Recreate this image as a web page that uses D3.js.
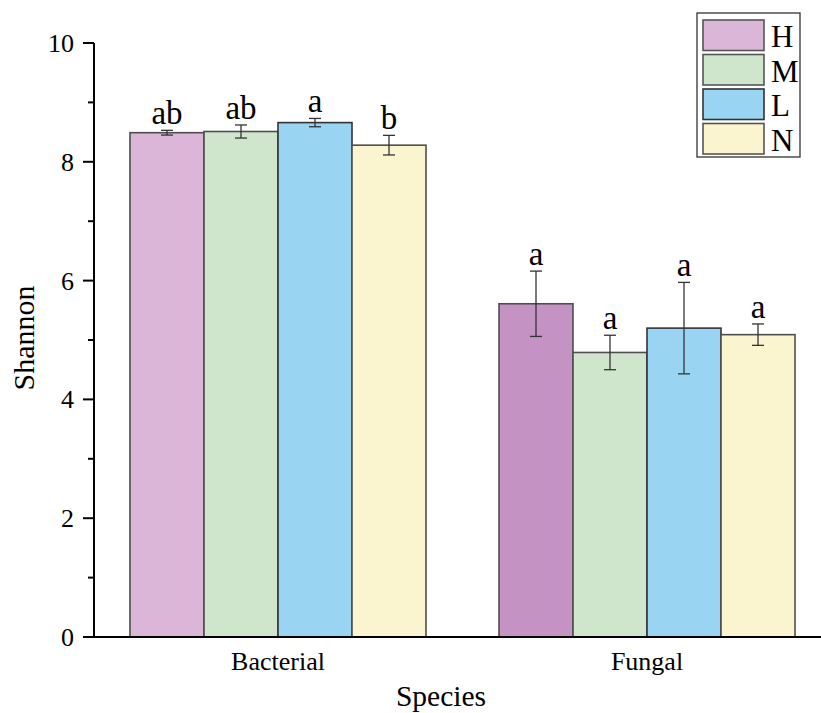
<!DOCTYPE html>
<html><head><meta charset="utf-8">
<script src="https://cdn.jsdelivr.net/npm/d3@7"></script>
<style>body{margin:0;background:#fff}svg{display:block}</style>
</head><body>
<svg id="c" width="821" height="713"></svg>
<script>
const categories = ["Bacterial", "Fungal"];
const groups = ["H", "M", "L", "N"];
const values = {
  H: [8.49, 5.61],
  M: [8.51, 4.79],
  L: [8.66, 5.20],
  N: [8.28, 5.09]
};
const errors = {
  H: [0.04, 0.55],
  M: [0.11, 0.29],
  L: [0.07, 0.77],
  N: [0.165, 0.18]
};
const letters = {
  H: ["ab", "a"],
  M: ["ab", "a"],
  L: ["a", "a"],
  N: ["b", "a"]
};
const yTicks = [0, 2, 4, 6, 8, 10];
const yMinorTicks = [1, 3, 5, 7, 9];
const fills = {
  H: ["#dbb6d8", "#c492c3"],
  M: ["#d0e6cc", "#d0e6cc"],
  L: ["#99d5f2", "#99d5f2"],
  N: ["#faf5cf", "#faf5cf"]
};
const legendFills = {H: "#dbb6d8", M: "#d0e6cc", L: "#99d5f2", N: "#faf5cf"};

const svg = d3.select("#c");
const font = "'Liberation Serif', 'Times New Roman', serif";
const y = d3.scaleLinear().domain([0, 10]).range([637, 43]);
const x0c = d3.scalePoint().domain(categories).range([278, 647]);
const x1 = d3.scaleBand().domain(groups).range([-148, 148]);

// bars
categories.forEach((cat, ci) => {
  const g = svg.append("g");
  groups.forEach(gr => {
    const v = values[gr][ci];
    const e = errors[gr][ci];
    const bx = x0c(cat) + x1(gr);
    g.append("rect")
      .attr("x", bx).attr("y", y(v))
      .attr("width", x1.bandwidth()).attr("height", y(0) - y(v))
      .attr("fill", fills[gr][ci]).attr("stroke", gr === "L" ? "#333" : "#4e4e4e").attr("stroke-width", 1.6);
    const cx = bx + x1.bandwidth() / 2;
    g.append("line").attr("x1", cx).attr("x2", cx).attr("y1", y(v + e)).attr("y2", y(v - e))
      .attr("stroke", "#333").attr("stroke-width", 1.3);
    [v + e, v - e].forEach(t => {
      g.append("line").attr("x1", cx - 6).attr("x2", cx + 6).attr("y1", y(t)).attr("y2", y(t))
        .attr("stroke", "#333").attr("stroke-width", 1.3);
    });
    g.append("text").attr("x", cx).attr("y", y(v + e) - 6)
      .attr("text-anchor", "middle").attr("font-family", font).attr("font-size", 33)
      .attr("fill", "#000").text(letters[gr][ci]);
  });
});

// y axis
const ya = svg.append("g");
ya.append("line").attr("x1", 94).attr("x2", 94).attr("y1", y(10)).attr("y2", y(0))
  .attr("stroke", "#000").attr("stroke-width", 2);
yTicks.forEach(t => {
  ya.append("line").attr("x1", 83).attr("x2", 94).attr("y1", y(t)).attr("y2", y(t))
    .attr("stroke", "#000").attr("stroke-width", 2);
  ya.append("text").attr("x", 74).attr("y", y(t) + 9).attr("text-anchor", "end")
    .attr("font-family", font).attr("font-size", 26).text(t);
});
yMinorTicks.forEach(t => {
  ya.append("line").attr("x1", 88).attr("x2", 94).attr("y1", y(t)).attr("y2", y(t))
    .attr("stroke", "#000").attr("stroke-width", 2);
});

// x axis
svg.append("line").attr("x1", 83).attr("x2", 821).attr("y1", y(0)).attr("y2", y(0))
  .attr("stroke", "#000").attr("stroke-width", 2);
categories.forEach(cat => {
  svg.append("text").attr("x", x0c(cat)).attr("y", 670).attr("text-anchor", "middle")
    .attr("font-family", font).attr("font-size", 26).text(cat);
});

// axis titles
svg.append("text").attr("x", 441).attr("y", 706).attr("text-anchor", "middle")
  .attr("font-family", font).attr("font-size", 29.5).text("Species");
svg.append("text").attr("transform", "translate(34,338) rotate(-90)").attr("text-anchor", "middle")
  .attr("font-family", font).attr("font-size", 30).text("Shannon");

// legend
const lg = svg.append("g");
lg.append("rect").attr("x", 697).attr("y", 13).attr("width", 103).attr("height", 144)
  .attr("fill", "#fff").attr("stroke", "#333").attr("stroke-width", 1.3);
groups.forEach((gr, i) => {
  const yy = 20 + i * 34.5;
  lg.append("rect").attr("x", 703).attr("y", yy).attr("width", 61).attr("height", 30.5)
    .attr("fill", legendFills[gr]).attr("stroke", gr === "L" ? "#333" : "#555").attr("stroke-width", 1.6);
  lg.append("text").attr("x", 771).attr("y", yy + 27).attr("font-family", font)
    .attr("font-size", 31).text(gr);
});
</script>
</body></html>
